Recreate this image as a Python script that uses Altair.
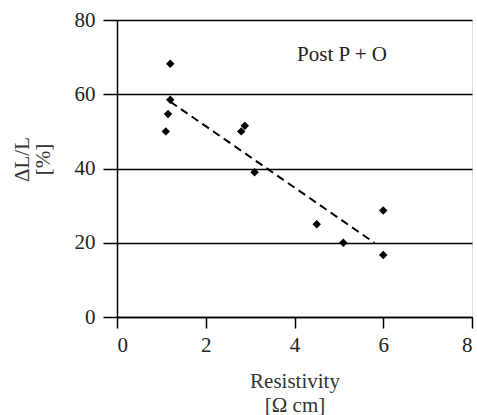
import altair as alt
import pandas as pd

# Data
resistivity = [1.2, 1.2, 1.15, 1.1, 2.8, 2.88, 3.1, 4.5, 5.1, 6.0, 6.0]
delta_l = [68.2, 58.5, 54.7, 50.0, 50.0, 51.5, 39.0, 25.0, 20.0, 28.7, 16.7]

fit_x = [1.2, 5.8]
fit_y = [58.0, 20.0]

label_text = ["Post P + O"]
label_x = [5.07]
label_y = [70.6]

FONT = "'Liberation Serif', 'Times New Roman', 'DejaVu Serif', serif"

pts = pd.DataFrame({"x": resistivity, "y": delta_l})
fit = pd.DataFrame({"x": fit_x, "y": fit_y})
lab = pd.DataFrame({"x": label_x, "y": label_y, "t": label_text})

xscale = alt.Scale(domain=[0, 8], nice=False, zero=False)
yscale = alt.Scale(domain=[0, 80], nice=False, zero=False)

xaxis = alt.Axis(
    values=[0, 2, 4, 6, 8], grid=False, domainColor="black", domainWidth=1.5,
    tickColor="black", tickWidth=1.5, tickSize=11, labelFont=FONT, labelFontSize=21,
    labelColor="#222", labelPadding=6, title=["Resistivity", "[Ω cm]"],
    titleFont=FONT, titleFontSize=21, titleFontWeight="normal", titleColor="#333",
    titleY=53, titleBaseline="top", titleLineHeight=24,
)
yaxis = alt.Axis(
    values=[0, 20, 40, 60, 80], grid=True, gridColor="black", gridWidth=1.5,
    domainColor="black", domainWidth=1.5, tickColor="black", tickWidth=1.5,
    tickSize=14, labelFont=FONT, labelFontSize=21, labelColor="#222",
    labelPadding=8, title=["ΔL/L", "[%]"], titleFont=FONT, titleFontSize=21,
    titleFontWeight="normal", titleColor="#333", titleAngle=-90,
    titleX=-106, titleY=139, titleAlign="center", titleBaseline="top",
    titleLineHeight=21,
)

points = alt.Chart(pts).mark_point(
    shape="diamond", filled=True, color="black", size=72, opacity=1
).encode(
    x=alt.X("x:Q", scale=xscale, axis=xaxis),
    y=alt.Y("y:Q", scale=yscale, axis=yaxis),
)

line = alt.Chart(fit).mark_line(
    color="black", strokeWidth=2, strokeDash=[8, 5]
).encode(x=alt.X("x:Q", scale=xscale), y=alt.Y("y:Q", scale=yscale))

text = alt.Chart(lab).mark_text(
    font=FONT, fontSize=21, color="#222", align="center", baseline="middle"
).encode(x=alt.X("x:Q", scale=xscale), y=alt.Y("y:Q", scale=yscale), text="t:N")

chart = (line + points + text).properties(
    width=355, height=297,
    autosize=alt.AutoSizeParams(type="none"),
    padding={"left": 117, "top": 20, "right": 5, "bottom": 98},
).configure_view(stroke="black", strokeWidth=1.5).configure(background="white")

chart.save("out.html", embed_options={"renderer": "svg", "actions": False})
